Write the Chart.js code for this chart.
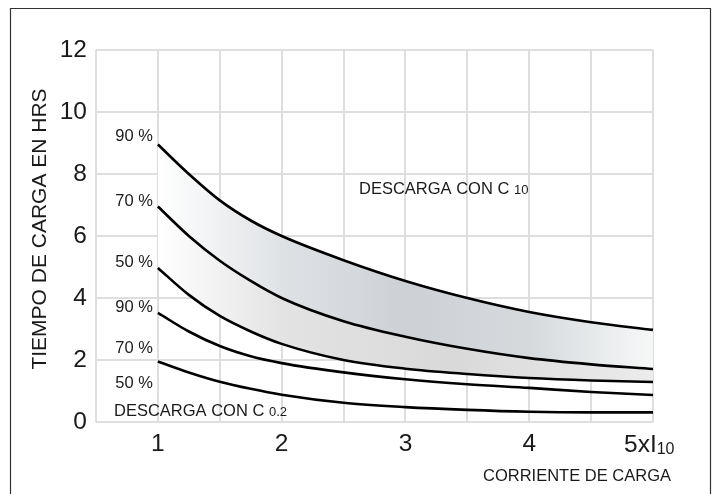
<!DOCTYPE html>
<html>
<head>
<meta charset="utf-8">
<script src="https://cdn.jsdelivr.net/npm/chart.js@4"></script>
<style>
  html, body { margin: 0; padding: 0; background: #fff; }
  #wrap { width: 717px; height: 494px; position: relative; }
</style>
</head>
<body>
<div id="wrap"><canvas id="chart" width="717" height="494"></canvas></div>
<script>
// charging current (multiples of I10) and charging time in hours
const currents = [1, 1.25, 1.5, 1.75, 2, 2.5, 3, 3.5, 4, 4.5, 5];
const c10_90 = [8.95, 8.0, 7.15, 6.5, 6.0, 5.22, 4.55, 4.0, 3.55, 3.22, 2.97];
const c10_70 = [6.95, 6.0, 5.2, 4.55, 4.0, 3.25, 2.75, 2.36, 2.06, 1.86, 1.71];
const c10_50 = [4.97, 4.1, 3.42, 2.92, 2.52, 2.0, 1.72, 1.55, 1.42, 1.34, 1.29];
const c02_90 = [3.52, 2.92, 2.45, 2.12, 1.9, 1.6, 1.38, 1.22, 1.1, 0.97, 0.87];
const c02_70 = [1.95, 1.6, 1.3, 1.07, 0.88, 0.62, 0.48, 0.39, 0.33, 0.31, 0.31];

const xTicks = [1, 2, 3, 4];
const curveLabels = ["90 %", "70 %", "50 %", "90 %", "70 %", "50 %"];
const curveLabelY = [9.2, 7.1, 5.15, 3.68, 2.38, 1.23];

const FONT = "'Liberation Sans', Arial, sans-serif";
const INK = "#1a1a1a";

const toPoints = (ys) => ys.map((y, i) => ({ x: currents[i], y }));

function bandGradient(stops) {
  return (context) => {
    const chart = context.chart;
    if (!chart.chartArea) return "rgba(0,0,0,0)";
    const x = chart.scales.x;
    const g = chart.ctx.createLinearGradient(x.getPixelForValue(1), 0, x.getPixelForValue(5), 0);
    stops.forEach(([pos, color]) => g.addColorStop(pos, color));
    return g;
  };
}

function curve(data, fill, bg) {
  return {
    data: toPoints(data),
    borderColor: "#000",
    borderWidth: 2.6,
    pointRadius: 0,
    cubicInterpolationMode: "monotone",
    fill: fill,
    backgroundColor: bg || "rgba(0,0,0,0)",
  };
}

const decorations = {
  id: "decorations",
  beforeDraw(chart) {
    const c = chart.ctx;
    c.save();
    c.fillStyle = "#fff";
    c.fillRect(0, 0, chart.width, chart.height);
    c.restore();
  },
  afterDraw(chart) {
    const c = chart.ctx;
    const x = chart.scales.x;
    const y = chart.scales.y;
    c.save();

    // frame
    c.strokeStyle = "#333";
    c.lineWidth = 1.2;
    c.beginPath();
    c.moveTo(10.5, 494);
    c.lineTo(10.5, 8.5);
    c.lineTo(710.5, 8.5);
    c.lineTo(710.5, 494);
    c.stroke();

    c.fillStyle = INK;

    // curve labels
    c.font = "16.5px " + FONT;
    c.textAlign = "right";
    c.textBaseline = "middle";
    const lx = x.getPixelForValue(1) - 5;
    curveLabels.forEach((t, i) => c.fillText(t, lx, y.getPixelForValue(curveLabelY[i])));

    // discharge notes
    c.textAlign = "left";
    c.textBaseline = "alphabetic";
    function note(main, sub, px, py) {
      c.font = "16.5px " + FONT;
      c.fillText(main, px, py);
      const w = c.measureText(main).width;
      c.font = "13px " + FONT;
      c.fillText(sub, px + w, py);
    }
    note("DESCARGA CON C ", "10", 359, 194);
    note("DESCARGA CON C ", "0.2", 114, 416);

    // last x tick with subscript
    c.font = "24.5px " + FONT;
    c.textBaseline = "middle";
    const tx = 624;
    const ty = 445;
    c.fillText("5xI", tx, ty);
    const w = c.measureText("5xI").width;
    c.font = "16px " + FONT;
    c.textBaseline = "alphabetic";
    c.fillText("10", tx + w, ty + 9);

    // axis titles
    c.font = "16.5px " + FONT;
    c.textAlign = "center";
    c.fillText("CORRIENTE DE CARGA", 577, 481);

    c.translate(40, 229);
    c.rotate(-Math.PI / 2);
    c.font = "21px " + FONT;
    c.textBaseline = "middle";
    c.fillText("TIEMPO DE CARGA EN HRS", 0, 0);
    c.restore();
  },
};

new Chart(document.getElementById("chart"), {
  type: "line",
  data: {
    datasets: [
      curve(c10_90, "+1", bandGradient([
        [0, "rgba(255,255,255,1)"],
        [0.25, "#dfe2e5"],
        [0.5, "#cdd1d5"],
        [0.75, "#d6d9dc"],
        [1, "#f6f8f8"],
      ])),
      curve(c10_70, "+1", bandGradient([
        [0, "rgba(255,255,255,1)"],
        [0.25, "#e3e3e3"],
        [0.6, "#d9d9d9"],
        [1, "#ececec"],
      ])),
      curve(c10_50, false),
      curve(c02_90, false),
      curve(c02_70, false),
    ],
  },
  plugins: [decorations],
  options: {
    responsive: false,
    animation: false,
    layout: { padding: { top: 50, right: 64, bottom: 0, left: 0 } },
    plugins: {
      legend: { display: false },
      tooltip: { enabled: false },
      filler: { drawTime: "beforeDatasetsDraw" },
    },
    scales: {
      x: {
        type: "linear",
        min: 0.5,
        max: 5,
        afterFit: (s) => { s.height = 72; },
        afterBuildTicks: (s) => {
          const ticks = [];
          for (let v = 0.5; v <= 5.001; v += 0.5) ticks.push({ value: v });
          s.ticks = ticks;
        },
        ticks: {
          autoSkip: false,
          maxRotation: 0,
          padding: 8,
          color: INK,
          font: { family: FONT, size: 24.5 },
          callback: (v) => (xTicks.includes(v) ? String(v) : ""),
        },
        grid: { color: "#dedede", lineWidth: 2, drawTicks: false },
        border: { display: false },
      },
      y: {
        min: 0,
        max: 12,
        afterFit: (s) => { s.width = 96; },
        ticks: {
          stepSize: 2,
          padding: 9,
          color: INK,
          font: { family: FONT, size: 24.5 },
        },
        grid: { color: "#dedede", lineWidth: 2, drawTicks: false },
        border: { display: false },
      },
    },
  },
});
</script>
</body>
</html>
